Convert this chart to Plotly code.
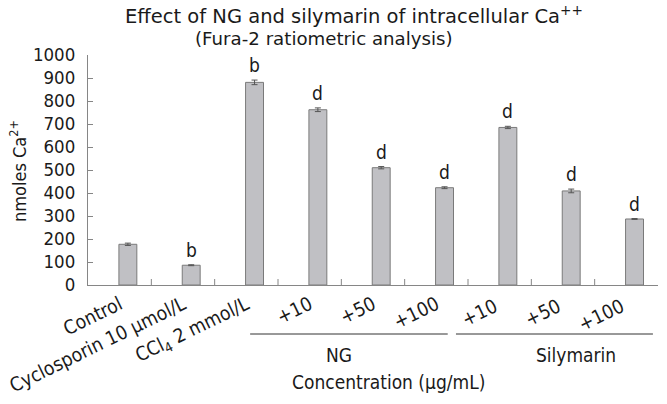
import plotly.graph_objects as go

categories = ["Control", "Cyclosporin 10 μmol/L", "CCl<sub>4</sub> 2 mmol/L",
              "+10", "+50", "+100", "+10 ", "+50 ", "+100 "]
values = [177, 86, 881, 762, 510, 423, 685, 409, 287]
errors = [5, 2, 10, 8, 5, 4, 5, 8, 2]
sig_labels = ["", "b", "b", "d", "d", "d", "d", "d", "d"]
groups = [("NG", 3, 5), ("Silymarin", 6, 8)]
y_ticks = [0, 100, 200, 300, 400, 500, 600, 700, 800, 900, 1000]
title_lines = ["Effect of NG and silymarin of intracellular Ca<sup>++</sup>",
               "(Fura-2 ratiometric analysis)"]

# style: (line start pad, line end pad, label shift) per group, in category units
group_style = [(-0.94, 0.18, -0.54), (-0.69, 0.42, 0.21)]

FONT = "DejaVu Sans Condensed, DejaVu Sans, sans-serif"
TFONT = "DejaVu Sans, sans-serif"
TXT = "#1a1a1a"
AX = "#868686"
FS = 19
PLOT_H = 230.0
PLOT_W = 570.0
L_MARGIN = 88

idx = list(range(len(categories)))

fig = go.Figure()
fig.add_trace(go.Bar(
    x=idx, y=values,
    width=0.283, offset=-0.012,
    marker=dict(color="#c0c0c4", line=dict(color="#7a7a7a", width=1)),
    error_y=dict(type="data", array=errors, visible=True,
                 color="#555555", thickness=1, width=3),
    showlegend=False,
))

annotations = []
for i, (v, e, s) in enumerate(zip(values, errors, sig_labels)):
    if s:
        annotations.append(dict(x=i + 0.13, y=v + e, text=s, showarrow=False,
                                xref="x", yref="y", yanchor="bottom", yshift=2,
                                font=dict(family=FONT, size=FS, color=TXT)))

for (name, a, b), (p0, p1, sh) in zip(groups, group_style):
    fig.add_shape(type="line", xref="x", yref="paper",
                  x0=a + p0, x1=b + p1, y0=-49 / PLOT_H, y1=-49 / PLOT_H,
                  line=dict(color="#333333", width=1))
    annotations.append(dict(x=(a + b) / 2 + sh, y=-70 / PLOT_H, xref="x", yref="paper",
                            text=name, showarrow=False, yanchor="middle",
                            font=dict(family=FONT, size=FS, color=TXT)))

annotations.append(dict(x=0.70, y=-97 / PLOT_H, xref="paper", yref="paper",
                        text="Concentration (μg/mL)", showarrow=False, yanchor="middle",
                        font=dict(family=FONT, size=FS, color=TXT)))

annotations.append(dict(x=(18 - L_MARGIN) / PLOT_W, y=(285 - 171) / PLOT_H,
                        xref="paper", yref="paper", textangle=-90,
                        text="nmoles Ca<sup>2+</sup>", showarrow=False,
                        xanchor="center", yanchor="middle",
                        font=dict(family=FONT, size=18, color=TXT)))

# title: line 1 left-anchored, line 2 centred
annotations.append(dict(x=(123 - L_MARGIN) / PLOT_W, y=1 + (55 - 15) / PLOT_H,
                        xref="paper", yref="paper", text=title_lines[0], showarrow=False,
                        xanchor="left", yanchor="middle",
                        font=dict(family=TFONT, size=19.5, color=TXT)))
annotations.append(dict(x=(324 - L_MARGIN) / PLOT_W, y=1 + (55 - 39) / PLOT_H,
                        xref="paper", yref="paper", text=title_lines[1], showarrow=False,
                        xanchor="center", yanchor="middle",
                        font=dict(family=TFONT, size=18.2, color=TXT)))

fig.update_layout(
    width=667, height=404,
    margin=dict(l=L_MARGIN, r=9, t=55, b=119, autoexpand=False),
    paper_bgcolor="white", plot_bgcolor="white",
    font=dict(family=FONT, size=FS, color=TXT),
    xaxis=dict(tickmode="array", tickvals=idx, ticktext=categories,
               range=[-0.5, len(categories) - 0.5], automargin=False,
               tickangle=-26, showline=True, linecolor=AX, linewidth=1,
               ticks="", showgrid=False, zeroline=False,
               ticklabeloverflow="allow",
               tickfont=dict(family=FONT, size=19.3, color=TXT)),
    yaxis=dict(range=[0, 1000], tickvals=y_ticks, showline=True, linecolor=AX,
               linewidth=1, ticks="inside", ticklen=5, tickcolor=AX,
               showgrid=False, zeroline=False, automargin=False,
               ticklabelstandoff=8,
               tickfont=dict(family=FONT, size=18.5, color=TXT)),
    annotations=annotations,
)

# category boundary tick marks (inside, upward)
for i in range(1, len(categories)):
    fig.add_shape(type="line", xref="x", yref="paper", x0=i - 0.5, x1=i - 0.5,
                  y0=0, y1=6 / PLOT_H, line=dict(color=AX, width=1))

fig.write_html("out.html", config={"displayModeBar": False},
               post_script="document.body.style.margin='0';document.body.style.overflow='hidden';")
